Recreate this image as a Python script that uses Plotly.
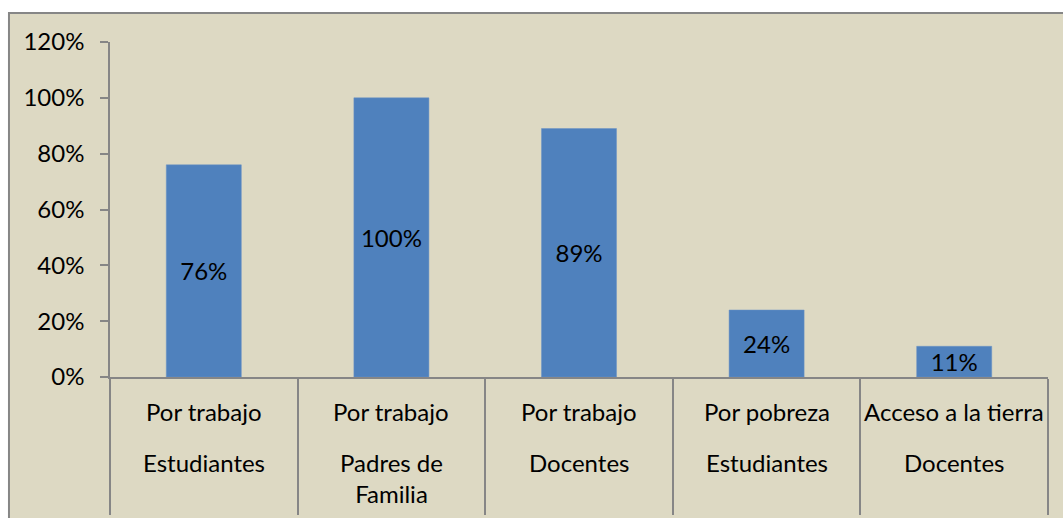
import plotly.graph_objects as go

# Data
line1 = ["Por trabajo", "Por trabajo", "Por trabajo", "Por pobreza", "Acceso a la tierra"]
line2 = ["Estudiantes", "Padres de<br>Familia", "Docentes", "Estudiantes", "Docentes"]
values = [76, 100, 89, 24, 11]
categories = [f"{a} {b}" for a, b in zip(line1, line2)]
y_ticks = [0, 20, 40, 60, 80, 100, 120]
y_tick_labels = [f"{v}%" for v in y_ticks]
value_labels = [f"{v}%" for v in values]

FONT = "Lato"
FS = 24
BG = "#DDD9C3"
GRAY = "#868686"
BLUE = "#4F81BD"

fig = go.Figure()
fig.add_trace(go.Bar(
    x=categories, y=values,
    marker=dict(color=BLUE, line=dict(color="#6A92C6", width=0.5)),
    width=0.4,
    text=value_labels, texttemplate="%{text}",
    textposition="inside", insidetextanchor="middle",
    textangle=0, constraintext="none",
    textfont=dict(family=FONT, size=FS, color="black"),
    hoverinfo="skip",
))

annotations = []
for c, a, b in zip(categories, line1, line2):
    annotations.append(dict(x=c, xref="x", y=0, yref="paper", text=a, showarrow=False,
                            yanchor="middle", yshift=-34,
                            font=dict(family=FONT, size=FS, color="black")))
    annotations.append(dict(x=c, xref="x", y=0, yref="paper", text=b, showarrow=False,
                            yanchor="top", yshift=-69,
                            font=dict(family=FONT, size=FS, color="black")))

fig.update_layout(
    width=1063, height=518,
    margin=dict(l=110, r=15, t=42, b=141),
    paper_bgcolor="white", plot_bgcolor="rgba(0,0,0,0)",
    showlegend=False,
    annotations=annotations,
    shapes=[dict(type="rect", xref="paper", yref="paper",
                 x0=-0.1077, x1=1.06, y0=-0.6, y1=1.0866,
                 fillcolor=BG, line=dict(color=GRAY, width=2), layer="below")],
    xaxis=dict(
        type="category", tickson="boundaries", ticks="outside", ticklen=136,
        tickcolor=GRAY, tickwidth=1.5, showticklabels=False, automargin=False,
        showline=True, linecolor=GRAY, linewidth=1.5, showgrid=False, zeroline=False,
    ),
    yaxis=dict(
        range=[0, 120], tickmode="array", tickvals=y_ticks, ticktext=y_tick_labels,
        ticks="outside", ticklen=8, tickcolor=GRAY, tickwidth=1.5,
        ticklabelstandoff=11, automargin=False,
        tickfont=dict(family=FONT, size=FS, color="black"),
        showline=True, linecolor=GRAY, linewidth=1.5, showgrid=False, zeroline=False,
    ),
)

fig.write_html(
    "out.html",
    config={"displayModeBar": False},
    post_script="document.body.style.margin='0';document.body.style.overflow='hidden';",
)
